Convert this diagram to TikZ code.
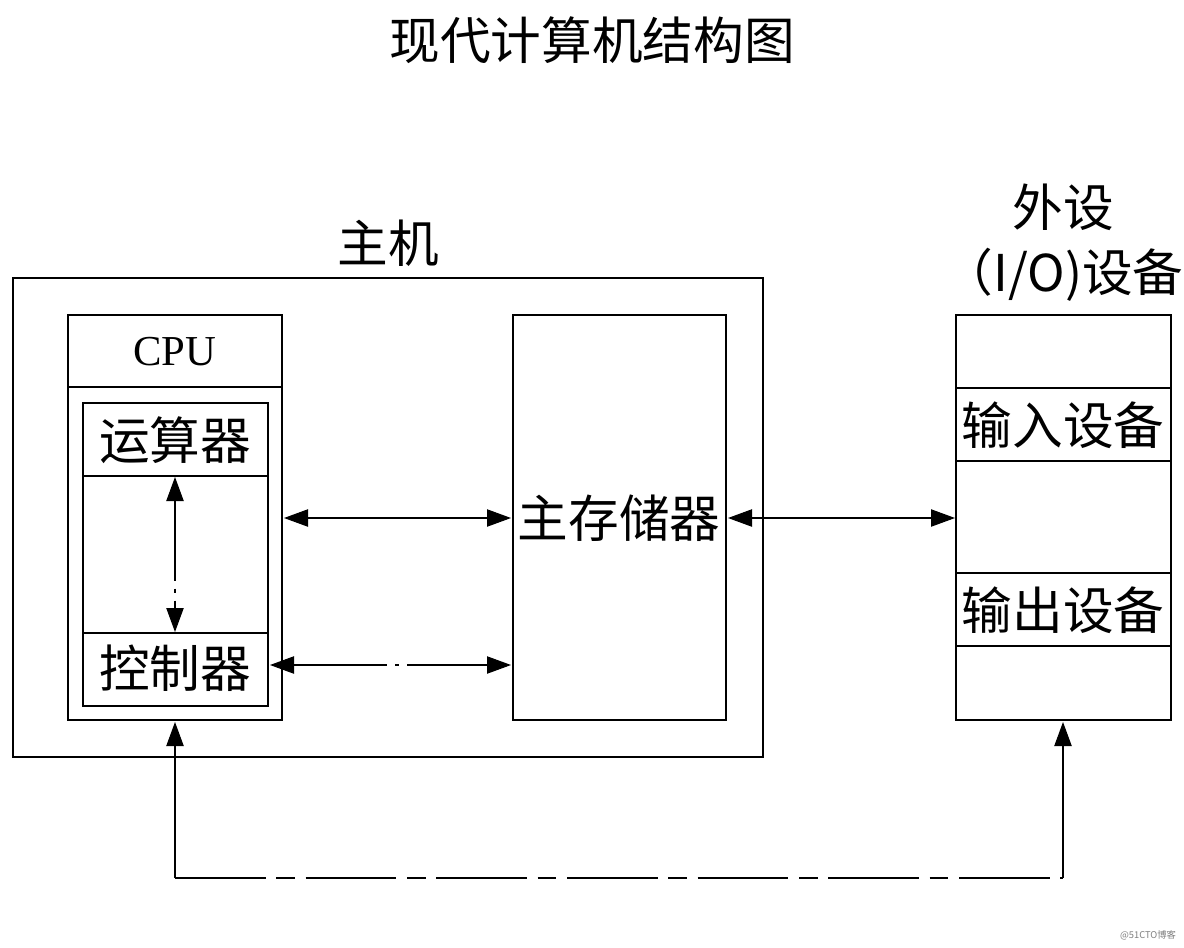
\documentclass[tikz,border=0pt]{standalone}
\usepackage{fontspec}
\setmainfont{Liberation Serif}
\newfontfamily\cjk{Noto Sans CJK SC}
\usetikzlibrary{arrows.meta}
\begin{document}
\begin{tikzpicture}[x=0.75pt,y=-0.75pt,line width=0.8pt,
  tx/.style={font=\cjk\fontsize{38}{42}\selectfont,inner sep=0pt},
  tip/.style={Triangle[length=18pt,width=13pt]},
  ar/.style={{Triangle[length=18pt,width=13pt]}-{Triangle[length=18pt,width=13pt]}},
  dd/.style={dash pattern=on 60pt off 6pt on 3pt off 6pt}]
\useasboundingbox[fill=white] (0,0) rectangle (1184,947);
\node[tx] (title) at (592,40) {现代计算机结构图};
\node[tx] (zj) at (388,243) {主机};
\node[tx] (ws) at (1063,207) {外设};
\node[tx] (io) at (1063,275) {（I/O)设备};
\draw (13,278) rectangle (763,757);
\draw (68,315) rectangle (282,720);
\draw (68,387) -- (282,387);
\node[font=\fontsize{32}{36}\selectfont] (cpu) at (175,352) {CPU};
\draw (83,403) rectangle (268,706);
\draw (83,476) -- (268,476);
\draw (83,633) -- (268,633);
\node[tx] (ys) at (175,440) {运算器};
\node[tx] (kz) at (175,668) {控制器};
\coordinate (a1) at (175,477);
\coordinate (a2) at (175,632);
\draw[ar,dd] (a1) -- (a2);
\draw (513,315) rectangle (726,720);
\node[tx] (mem) at (619,518) {主存储器};
\coordinate (b1) at (284,518); \coordinate (b2) at (511,518);
\draw[ar] (b1) -- (b2);
\coordinate (c1) at (270,665); \coordinate (c2) at (511,665);
\draw[ar,dash pattern=on 70pt off 6pt on 3pt off 6pt] (c1) -- (c2);
\coordinate (d1) at (728,518); \coordinate (d2) at (955,518);
\draw[ar] (d1) -- (d2);
\draw (956,315) rectangle (1171,720);
\foreach \y in {388,461,573,646} \draw (956,\y) -- (1171,\y);
\node[tx] (in) at (1063,425) {输入设备};
\node[tx] (out) at (1063,610) {输出设备};
\coordinate (e1) at (175,722); \coordinate (e2) at (175,878);
\coordinate (e3) at (1063,878); \coordinate (e4) at (1063,722);
\draw[-{Triangle[length=18pt,width=13pt]}] (e2) -- (e1);
\draw[-{Triangle[length=18pt,width=13pt]}] (e3) -- (e4);
\draw[dash pattern=on 68pt off 8pt on 14pt off 8pt] (e2) -- (e3);
\node[font=\cjk\fontsize{7}{8}\selectfont,text=gray] (wm) at (1148,935) {@51CTO博客};
\end{tikzpicture}
\end{document}
